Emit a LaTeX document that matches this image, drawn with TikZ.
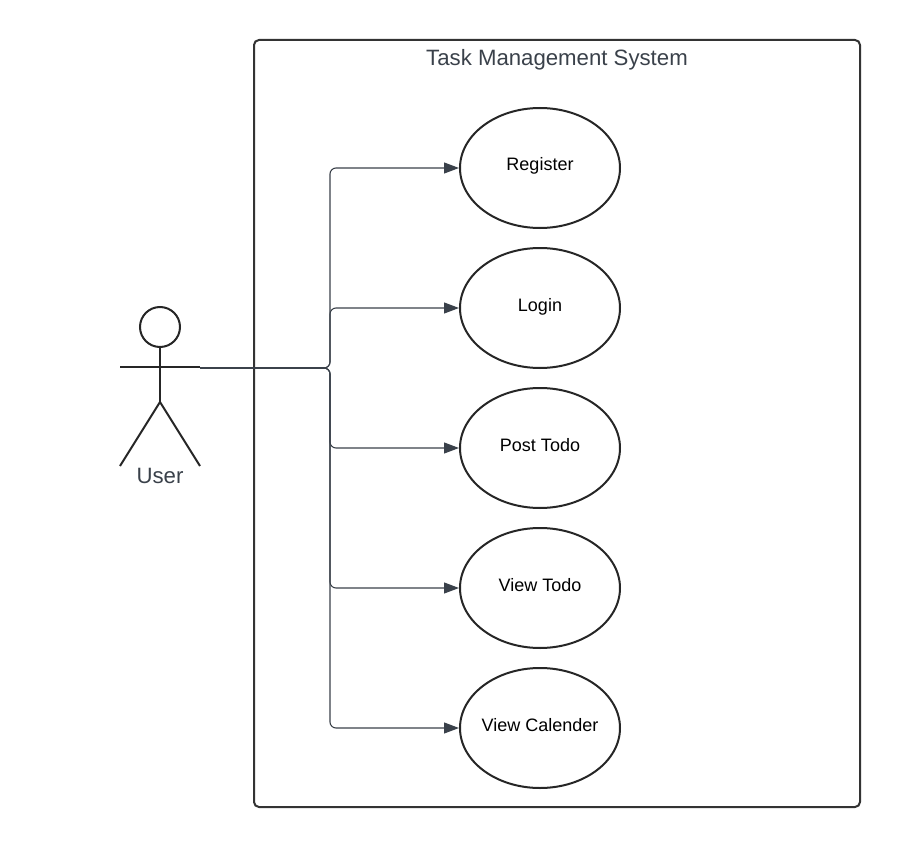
\documentclass[tikz,border=0pt]{standalone}
\usepackage{fontspec}
\setmainfont{Liberation Sans}
\usetikzlibrary{shapes.geometric, arrows.meta}
\definecolor{inkgray}{HTML}{3A414A}
\definecolor{boxgray}{HTML}{333333}
\begin{document}
\begin{tikzpicture}[x=1pt, y=-1pt,
    usecase/.style={ellipse, draw=black!85, line width=2pt, inner xsep=-6pt, inner ysep=0pt, minimum width=160pt, minimum height=120pt, text height=6pt, text depth=0pt, font=\fontsize{18}{20}\selectfont},
    link/.style={draw=inkgray, line width=1.1pt, rounded corners=6pt, -{Triangle[length=15pt, width=11pt]}},
    stick/.style={draw=black!85, line width=2pt}]
    \useasboundingbox (0, 0) rectangle (900, 848);

    \def\xc{540};
    \def\dy{140};
    \def\yb{168};

% system boundary
    \draw[draw=boxgray, line width=2pt, rounded corners=5pt] (254, 40) rectangle (860, 807);
    \node[text=inkgray, font=\fontsize{22.2}{24}\selectfont] (title) at (557, 60) {Task Management System};

% use cases
    \node[usecase] (register) at (\xc, \yb) {Register};
    \node[usecase] (login) at (\xc, \yb + \dy) {Login};
    \node[usecase] (post) at (\xc, \yb + 2 * \dy) {Post Todo};
    \node[usecase] (viewtodo) at (\xc, \yb + 3 * \dy) {View Todo};
    \node[usecase] (calender) at (\xc, \yb + 4 * \dy) {View Calender};

% actor
    \node[circle, stick, inner sep=0pt, minimum size=40pt] (head) at (160, 327) {};
    \coordinate (hip) at (160, 402);
    \coordinate (hand) at (200, 368);
    \coordinate (spine) at (330, 368);
    \draw[stick] (head) -- (hip);
    \draw[stick] (120, 367) -- (200, 367);
    \draw[stick] (120, 466) -- (hip) -- (200, 466);
    \node[text=inkgray, font=\fontsize{22.2}{24}\selectfont] (user) at (160, 476) {User};

% arrows from actor to use cases
    \draw[link] (hand) -| (spine |- register.west) -- (register.west);
    \draw[link] (hand) -| (spine |- login.west) -- (login.west);
    \draw[link] (hand) -| (spine |- post.west) -- (post.west);
    \draw[link] (hand) -| (spine |- viewtodo.west) -- (viewtodo.west);
    \draw[link] (hand) -| (spine |- calender.west) -- (calender.west);
\end{tikzpicture}
\end{document}
